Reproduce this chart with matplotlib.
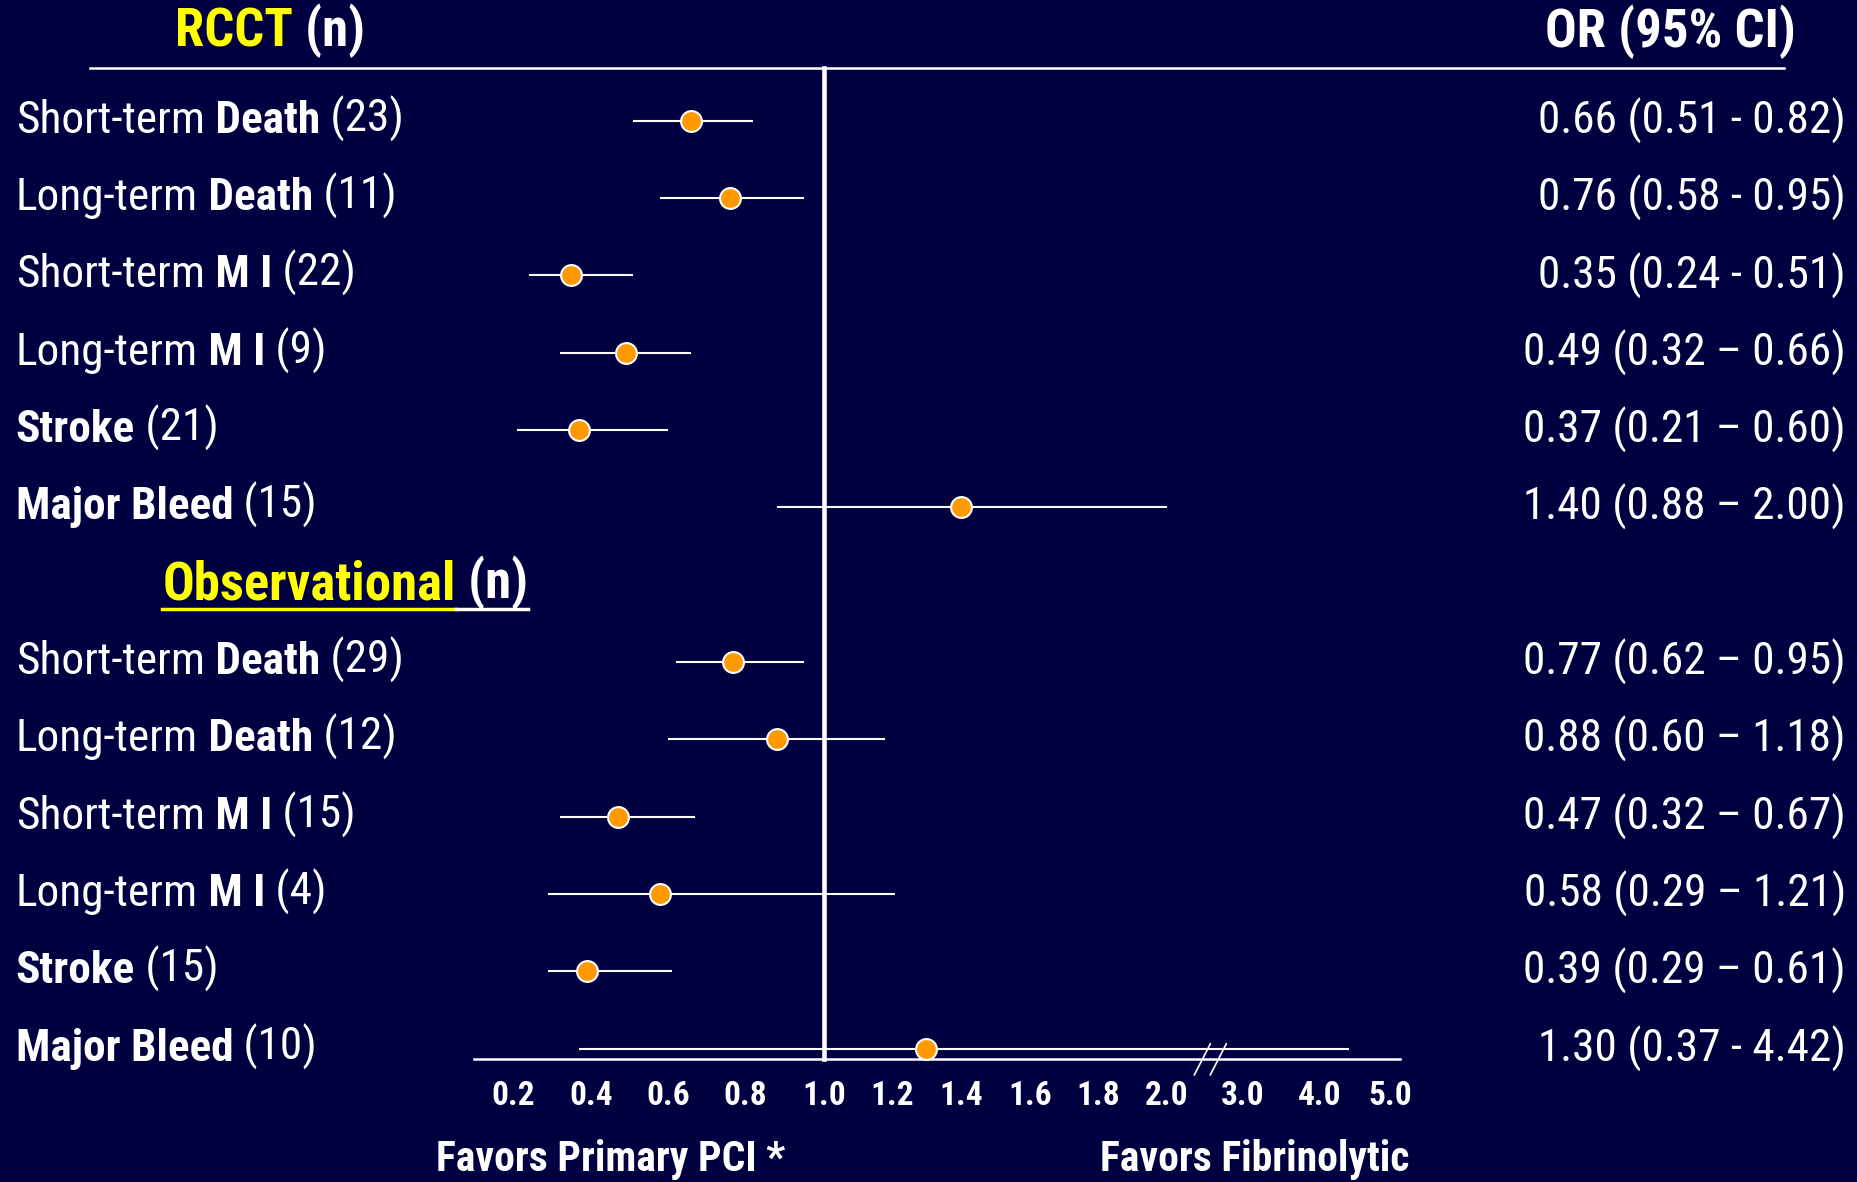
import numpy as np
import matplotlib
matplotlib.use("Agg")
import matplotlib.pyplot as plt

plt.rcParams['font.family'] = ['Roboto Condensed', 'Liberation Sans', 'DejaVu Sans']

# data
period = ["Short-term", "Long-term", "Short-term", "Long-term", "", ""]
outcome = ["Death", "Death", "M I", "M I", "Stroke", "Major Bleed"]
n_rcct = [23, 11, 22, 9, 21, 15]
or_rcct = [0.66, 0.76, 0.35, 0.49, 0.37, 1.40]
lo_rcct = [0.51, 0.58, 0.24, 0.32, 0.21, 0.88]
hi_rcct = [0.82, 0.95, 0.51, 0.66, 0.60, 2.00]
sep_rcct = ["-", "-", "-", "\u2013", "\u2013", "\u2013"]

n_obs = [29, 12, 15, 4, 15, 10]
or_obs = [0.77, 0.88, 0.47, 0.58, 0.39, 1.30]
lo_obs = [0.62, 0.60, 0.32, 0.29, 0.29, 0.37]
hi_obs = [0.95, 1.18, 0.67, 1.21, 0.61, 4.42]
sep_obs = ["\u2013", "\u2013", "\u2013", "\u2013", "\u2013", "-"]

tick_vals = [0.2, 0.4, 0.6, 0.8, 1.0, 1.2, 1.4, 1.6, 1.8, 2.0, 3.0, 4.0, 5.0]

# broken axis of the slide: linear pieces, pixel position of each tick
tick_px = [513, 591, 668, 745, 824, 892, 961, 1030, 1098, 1167, 1243, 1320, 1390]
anc_v = np.array([-50.0] + tick_vals + [60.0])
anc_p = np.array([513 - 50.2 * 390] + tick_px + [1390 + 55 * 70])

def fwd(v):
    return np.interp(v, anc_v, anc_p)

def inv(p):
    return np.interp(p, anc_p, anc_v)

BG = '#000040'
ORANGE = '#FF9900'
YELLOW = '#FFFF00'
W = 'white'

fig = plt.figure(figsize=(18.58, 11.82), dpi=100, facecolor=BG)
ax = fig.add_axes([0, 0, 1, 1], facecolor=BG)
ax.set_xscale('function', functions=(fwd, inv))
ax.set_xlim(inv(0), inv(1858))
# rows: 0..5 RCCT, 6 header, 7..12 observational
ax.set_ylim((1182 - 120.9) / 77.3, -120.9 / 77.3)
ax.axis('off')
ytr = ax.get_yaxis_transform()

def rich(x, y, pieces, size, trans=ytr):
    out = []
    prev = None
    for s, bold, col in pieces:
        kw = dict(fontsize=size, fontweight='bold' if bold else 'normal', color=col)
        if prev is None:
            prev = ax.text(x, y, s, transform=trans, ha='left', va='center', **kw)
        else:
            prev = ax.annotate(s, xy=(1, 0), xycoords=prev, ha='left', va='bottom', **kw)
        out.append(prev)
    return out

LBL = 32.6
HDR = 38
rows_r = np.arange(6)
rows_o = np.arange(6) + 7

for rows, ns, ors, los, his, seps in [(rows_r, n_rcct, or_rcct, lo_rcct, hi_rcct, sep_rcct),
                                      (rows_o, n_obs, or_obs, lo_obs, hi_obs, sep_obs)]:
    for i, r in enumerate(rows):
        pieces = []
        if period[i]:
            pieces.append((period[i], False, W))
            pieces.append((" " + outcome[i], True, W))
        else:
            pieces.append((outcome[i], True, W))
        pieces.append((" (%d)" % ns[i], False, W))
        rich(0.0085, r, pieces, LBL)
        ax.text(0.9935, r, "%.2f (%.2f %s %.2f)" % (ors[i], los[i], seps[i], his[i]),
                transform=ytr, ha='right', va='center', fontsize=LBL, color=W)
    ax.hlines(rows, los, his, color=W, lw=1.5, zorder=2)
    ax.plot(ors, rows, 'o', ms=15, mfc=ORANGE, mec=W, mew=1.5, zorder=3)

# headers
rich(0.094, -1.15, [("RCCT", True, YELLOW), (" (n)", True, W)], HDR)
ax.text(0.899, -1.15, "OR (95% CI)", transform=ytr, ha='center', va='center',
        fontsize=HDR, fontweight='bold', color=W)
obs_hdr = rich(0.0874, 6, [("Observational", True, YELLOW), (" (n)", True, W)], HDR)

# frame lines
top_row, axis_row = -0.69, 12.14
ax.plot([0.0485, 0.96], [top_row, top_row], transform=ytr, color=W, lw=1.8)
ax.plot([1.0, 1.0], [top_row, axis_row], color=W, lw=3.3, zorder=1)
ax.plot([0.10, 5.15], [axis_row, axis_row], color=W, lw=1.8)
ax.plot([2.36, 2.57], [12.34, 11.94], color=W, lw=1.2)
ax.plot([2.57, 2.78], [12.34, 11.94], color=W, lw=1.2)

for v in tick_vals:
    ax.text(v, 12.62, "%.1f" % v, ha='center', va='center', fontsize=24,
            fontweight='bold', color=W)

ax.text(0.2347, 13.43, "Favors Primary PCI *", transform=ytr, ha='left', va='center',
        fontsize=30, fontweight='bold', color=W)
ax.text(0.592, 13.43, "Favors Fibrinolytic", transform=ytr, ha='left', va='center',
        fontsize=30, fontweight='bold', color=W)

# underline of the "Observational (n)" header, yellow then white
fig.canvas.draw()
to_ax = ax.transAxes.inverted()
b0 = obs_hdr[0].get_window_extent()
b1 = obs_hdr[1].get_window_extent()
xa = to_ax.transform([(b0.x0, 0), (b1.x0, 0), (b1.x1, 0)])[:, 0]
ax.plot([xa[0], xa[1]], [6.31, 6.31], transform=ytr, color=YELLOW, lw=2.5)
ax.plot([xa[1], xa[2]], [6.31, 6.31], transform=ytr, color=W, lw=2.5)

fig.savefig("out.png", dpi=100, facecolor=BG)
